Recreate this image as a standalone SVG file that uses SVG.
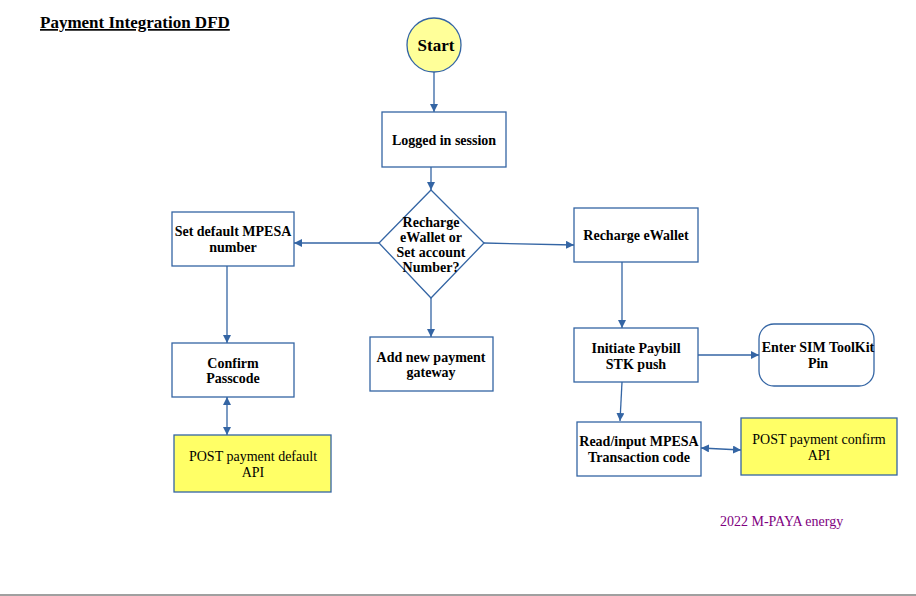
<svg xmlns="http://www.w3.org/2000/svg" width="916" height="596" viewBox="0 0 916 596">
<style>
.n{fill:#fff;stroke:#3465a4;stroke-width:1.3}
.y{fill:#ffff66;stroke:#3465a4;stroke-width:1.3}
.t{font-family:"Liberation Serif",serif;font-size:14px;font-weight:bold;text-anchor:middle;fill:#000}
.s{font-size:17px}
.r{font-family:"Liberation Serif",serif;font-size:14px;text-anchor:middle;fill:#000}
.c line{stroke:#3465a4;stroke-width:1.3;fill:none}
</style>
<defs>
<marker id="a" viewBox="0 0 10 10" refX="10" refY="5" markerWidth="8" markerHeight="8" markerUnits="userSpaceOnUse" orient="auto-start-reverse">
<path d="M0,0 L10,5 L0,10 z" fill="#3465a4"/>
</marker>
</defs>
<rect width="916" height="596" fill="#fff"/>
<text x="40" y="28" font-family="'Liberation Serif',serif" font-size="17" font-weight="bold" text-decoration="underline">Payment Integration DFD</text>
<g class="c">
<line x1="434" y1="72" x2="434" y2="112" marker-end="url(#a)"/>
<line x1="431" y1="167" x2="431" y2="190" marker-end="url(#a)"/>
<line x1="379" y1="243" x2="294" y2="243" marker-end="url(#a)"/>
<line x1="484" y1="243" x2="574" y2="245" marker-end="url(#a)"/>
<line x1="431" y1="298" x2="431" y2="337" marker-end="url(#a)"/>
<line x1="227" y1="266" x2="227" y2="343" marker-end="url(#a)"/>
<line x1="227" y1="397" x2="227" y2="435" marker-start="url(#a)" marker-end="url(#a)"/>
<line x1="622" y1="262" x2="622" y2="328" marker-end="url(#a)"/>
<line x1="698" y1="355" x2="759" y2="355" marker-end="url(#a)"/>
<line x1="622" y1="382" x2="620" y2="421" marker-end="url(#a)"/>
<line x1="701" y1="448" x2="741" y2="450" marker-start="url(#a)" marker-end="url(#a)"/>
</g>
<g id="start"><circle cx="434" cy="45" r="27" fill="#ffff99" stroke="#3465a4" stroke-width="1.3"/><text x="436" y="51" class="t s">Start</text></g>
<g id="logged"><rect x="382" y="112" width="124" height="55" class="n"/><text x="444" y="145" class="t">Logged in session</text></g>
<g id="decision"><polygon points="431,190 484,243 431,298 379,243" class="n"/><text class="t"><tspan x="431" y="227">Recharge</tspan><tspan x="431" y="242">eWallet or</tspan><tspan x="431" y="257">Set account</tspan><tspan x="431" y="272">Number?</tspan></text></g>
<g id="setdefault"><rect x="172" y="212" width="122" height="54" class="n"/><text class="t"><tspan x="233" y="236">Set default MPESA</tspan><tspan x="233" y="252">number</tspan></text></g>
<g id="recharge"><rect x="574" y="208" width="124" height="54" class="n"/><text x="636" y="240" class="t">Recharge eWallet</text></g>
<g id="addnew"><rect x="370" y="337" width="123" height="54" class="n"/><text class="t"><tspan x="431" y="362">Add new payment</tspan><tspan x="431" y="377">gateway</tspan></text></g>
<g id="confirm"><rect x="172" y="343" width="122" height="54" class="n"/><text class="t"><tspan x="233" y="368">Confirm</tspan><tspan x="233" y="383">Passcode</tspan></text></g>
<g id="postdefault"><rect x="174" y="435" width="157" height="57" class="y"/><text class="r"><tspan x="253" y="461">POST payment default</tspan><tspan x="253" y="477">API</tspan></text></g>
<g id="initiate"><rect x="574" y="328" width="124" height="54" class="n"/><text class="t"><tspan x="636" y="353">Initiate Paybill</tspan><tspan x="636" y="369">STK push</tspan></text></g>
<g id="simpin"><rect x="759" y="324" width="115" height="62" rx="15" ry="15" class="n"/><text class="t"><tspan x="818" y="352">Enter SIM ToolKit</tspan><tspan x="818" y="368">Pin</tspan></text></g>
<g id="readinput"><rect x="577" y="422" width="124" height="54" class="n"/><text class="t"><tspan x="639" y="446">Read/input MPESA</tspan><tspan x="639" y="462">Transaction code</tspan></text></g>
<g id="postconfirm"><rect x="741" y="418" width="156" height="57" class="y"/><text class="r"><tspan x="819" y="444">POST payment confirm</tspan><tspan x="819" y="460">API</tspan></text></g>
<text x="720" y="526" font-family="'Liberation Serif',serif" font-size="14" fill="#800080">2022 M-PAYA energy</text>
<line x1="0" y1="595" x2="916" y2="595" stroke="#a0a0a0" stroke-width="2"/>
</svg>
